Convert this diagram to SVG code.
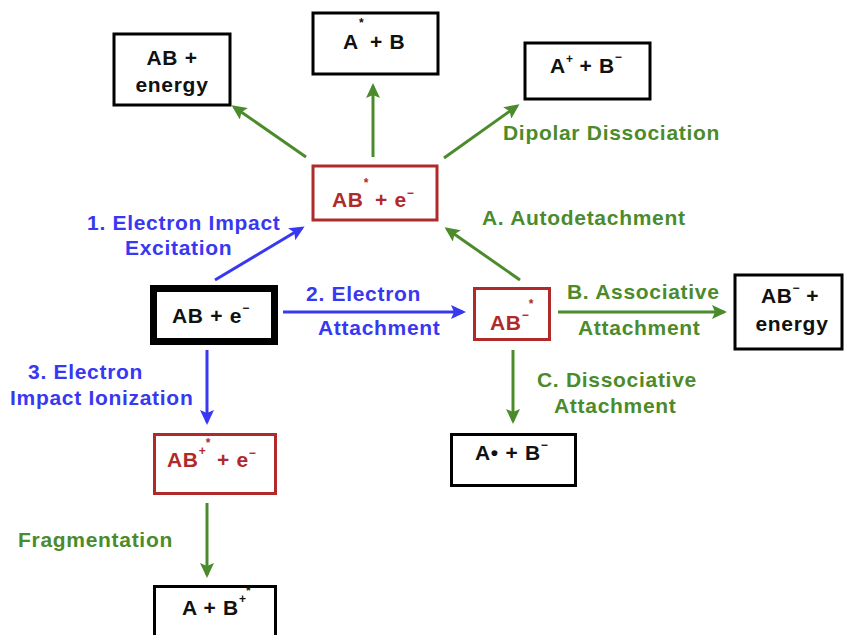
<svg xmlns="http://www.w3.org/2000/svg" width="845" height="635" viewBox="0 0 845 635">
<style>
  text { font-family: "Liberation Sans", Arial, sans-serif; font-weight: bold; font-size: 21px; letter-spacing: 0.7px; }
  .box { fill: #fff; stroke: #000; stroke-width: 3; }
  .rbox { fill: #fff; stroke: #b02a2a; stroke-width: 3; }
  .tk { fill: #111; }
  .tr { fill: #b02a2a; }
  .tb { fill: #3838f2; }
  .tg { fill: #4b8b2b; }
  .sup { font-size: 12px; letter-spacing: 0; }
  .ab { stroke: #3838f2; stroke-width: 3; fill: none; marker-end: url(#ahb); }
  .ag { stroke: #4b8b2b; stroke-width: 3; fill: none; marker-end: url(#ahg); }
</style>
<defs>
  <marker id="ahb" markerUnits="userSpaceOnUse" markerWidth="16" markerHeight="14" refX="12" refY="7" orient="auto">
    <path d="M0,0 L15,7 L0,14 L3,7 z" fill="#3838f2"/>
  </marker>
  <marker id="ahg" markerUnits="userSpaceOnUse" markerWidth="16" markerHeight="14" refX="12" refY="7" orient="auto">
    <path d="M0,0 L15,7 L0,14 L3,7 z" fill="#4b8b2b"/>
  </marker>
</defs>
<rect width="845" height="635" fill="#fff"/>

<g id="connectors">
  <line class="ab" x1="215" y1="280" x2="302" y2="228"/>
  <line class="ab" x1="283" y1="312" x2="463" y2="312"/>
  <line class="ab" x1="207" y1="350" x2="207" y2="422"/>
  <line class="ag" x1="306" y1="157" x2="234" y2="107"/>
  <line class="ag" x1="373" y1="157" x2="373" y2="86"/>
  <line class="ag" x1="444" y1="158" x2="517" y2="106"/>
  <line class="ag" x1="520" y1="280" x2="447" y2="229"/>
  <line class="ag" x1="558" y1="312" x2="724" y2="312"/>
  <line class="ag" x1="513" y1="350" x2="513" y2="421"/>
  <line class="ag" x1="207" y1="503" x2="207" y2="575"/>
</g>

<g id="labels">
  <text class="tb" x="87" y="230">1. Electron Impact</text>
  <text class="tb" x="125" y="255">Excitation</text>
  <text class="tb" x="306" y="301">2. Electron</text>
  <text class="tb" x="318" y="335">Attachment</text>
  <text class="tb" x="28" y="379">3. Electron</text>
  <text class="tb" x="10" y="405">Impact Ionization</text>
  <text class="tg" x="503" y="140">Dipolar Dissociation</text>
  <text class="tg" x="482" y="225">A. Autodetachment</text>
  <text class="tg" x="567" y="299">B. Associative</text>
  <text class="tg" x="578" y="335">Attachment</text>
  <text class="tg" x="537" y="387">C. Dissociative</text>
  <text class="tg" x="554" y="413">Attachment</text>
  <text class="tg" x="18" y="547">Fragmentation</text>
</g>

<g id="n-ab-energy">
  <rect class="box" x="114" y="34" width="116" height="71"/>
  <text class="tk" x="172" y="65" text-anchor="middle">AB +</text>
  <text class="tk" x="172" y="92" text-anchor="middle">energy</text>
</g>

<g id="n-astar-b">
  <rect class="box" x="313" y="13" width="125" height="61"/>
  <text class="tk" x="343" y="49">A<tspan class="sup" dy="-22">*</tspan><tspan dy="22"> + B</tspan></text>
</g>

<g id="n-aplus-bminus">
  <rect class="box" x="525" y="43" width="125" height="56"/>
  <text class="tk" x="550" y="73">A<tspan class="sup" dy="-10">+</tspan><tspan dy="10"> + B</tspan><tspan class="sup" dy="-12">−</tspan></text>
</g>

<g id="n-abstar-e">
  <rect class="rbox" x="313" y="166" width="124" height="54"/>
  <text class="tr" x="332" y="207">AB<tspan class="sup" dy="-20">*</tspan><tspan dy="20"> + e</tspan><tspan class="sup" dy="-10">−</tspan></text>
</g>

<g id="n-ab-e">
  <rect x="153.5" y="288.5" width="121" height="53" fill="#fff" stroke="#000" stroke-width="7"/>
  <text class="tk" x="172" y="323">AB + e<tspan class="sup" dy="-11">−</tspan></text>
</g>

<g id="n-abminus-star">
  <rect class="rbox" x="474.5" y="288.5" width="75" height="51"/>
  <text class="tr" x="490" y="330">AB<tspan class="sup" dy="-11">−</tspan><tspan class="sup" dy="-11">*</tspan></text>
</g>

<g id="n-abminus-energy">
  <rect class="box" x="735" y="275" width="107" height="74"/>
  <text class="tk" x="790" y="303" text-anchor="middle">AB<tspan class="sup" dy="-11">−</tspan><tspan dy="11"> +</tspan></text>
  <text class="tk" x="792" y="331" text-anchor="middle">energy</text>
</g>

<g id="n-abplusstar-e">
  <rect class="rbox" x="154.5" y="434.5" width="121" height="59"/>
  <text class="tr" x="167" y="467">AB<tspan class="sup" dy="-12">+</tspan><tspan class="sup" dy="-8">*</tspan><tspan dy="20"> + e</tspan><tspan class="sup" dy="-10">−</tspan></text>
</g>

<g id="n-adot-bminus">
  <rect class="box" x="451.5" y="434.5" width="124" height="51"/>
  <text class="tk" x="475" y="460">A• + B<tspan class="sup" dy="-11">−</tspan></text>
</g>

<g id="n-a-bplusstar">
  <rect class="box" x="154.5" y="586.5" width="121" height="60"/>
  <text class="tk" x="182" y="615">A + B<tspan class="sup" dy="-12">+</tspan><tspan class="sup" dy="-8">*</tspan></text>
</g>
</svg>
